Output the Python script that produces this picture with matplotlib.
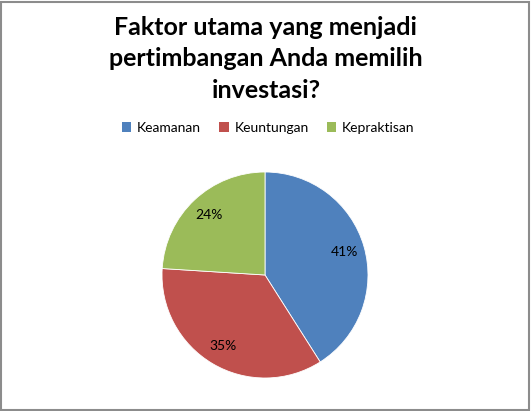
import matplotlib
matplotlib.use("Agg")
import matplotlib.pyplot as plt
from matplotlib.patches import Patch, Rectangle

plt.rcParams['font.family'] = ['Lato', 'DejaVu Sans']

# data
labels = ['Keamanan', 'Keuntungan', 'Kepraktisan']
values = [41, 35, 24]
colors = ['#4F81BD', '#C0504D', '#9BBB59']
title = 'Faktor utama yang menjadi\npertimbangan Anda memilih\ninvestasi?'

W, H = 531, 411
fig = plt.figure(figsize=(W / 100, H / 100), dpi=100)
fig.patch.set_facecolor('white')

# border of the chart area
fig.patches.append(Rectangle((1 / W, 1 / H), 1 - 3 / W, 1 - 3 / H, transform=fig.transFigure,
                             fill=False, edgecolor='#8c8c8c', linewidth=1.5))

fig.text(266 / W, 1 - 59 / H, title, ha='center', va='center', fontsize=18,
         fontweight='bold', linespacing=1.45, color='black')

# pie
cx, cy, r = 265, 275, 103
ax = fig.add_axes([(cx - r) / W, (H - cy - r) / H, 2 * r / W, 2 * r / H])
ax.pie(values, colors=colors, startangle=90, counterclock=False,
       autopct='%d%%', pctdistance=0.8,
       wedgeprops=dict(edgecolor='white', linewidth=0.6),
       textprops=dict(fontsize=10, color='black'))
ax.set_xlim(-1, 1)
ax.set_ylim(-1, 1)
ax.set_aspect('equal')
ax.axis('off')

handles = [Patch(facecolor=c, label=l) for c, l in zip(colors, labels)]
fig.legend(handles=handles, loc='center', bbox_to_anchor=(268 / W, 1 - 128 / H),
           ncol=3, frameon=False, fontsize=10, handlelength=0.7, handleheight=0.7,
           handletextpad=0.4, columnspacing=1.3)

fig.savefig('out.png', dpi=100)
